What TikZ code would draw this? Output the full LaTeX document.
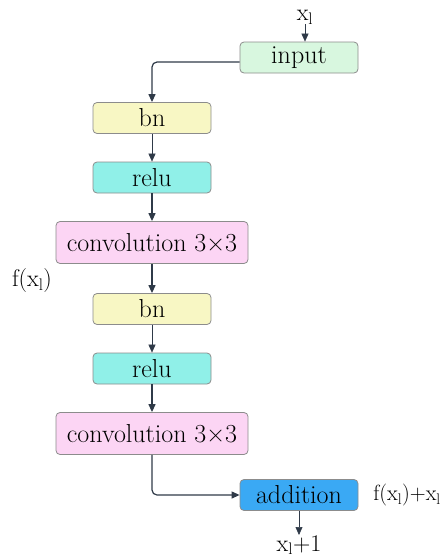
\documentclass[tikz,border=0pt]{standalone}
\usepackage{fontspec}
\usetikzlibrary{arrows.meta}
\definecolor{bordergray}{HTML}{8C8C8C}
\definecolor{arrowdark}{HTML}{2F3A48}
\definecolor{inputfill}{HTML}{D8F7DF}
\definecolor{bnfill}{HTML}{F8F7C4}
\definecolor{relufill}{HTML}{90F0E8}
\definecolor{convfill}{HTML}{FCD5F4}
\definecolor{addfill}{HTML}{3AA9F4}
\tikzset{
  blk/.style={draw=bordergray, line width=0.8pt, rounded corners=4pt, inner sep=0pt, font=\fontsize{26}{26}\selectfont},
  smallblk/.style={blk, minimum width=118pt, minimum height=31pt},
  bigblk/.style={blk, minimum width=192pt, minimum height=42pt},
  conn/.style={draw=arrowdark, line width=1.2pt, -{Triangle[length=8pt,width=7pt]}},
  thin/.style={draw=arrowdark, line width=0.6pt, -{Triangle[length=8pt,width=7pt]}},
  lbl/.style={font=\fontsize{24}{24}\selectfont, inner sep=0pt}
}
\begin{document}
\begin{tikzpicture}[x=1pt,y=-1pt]
\useasboundingbox (0,0) rectangle (441,558);
\node[smallblk, fill=inputfill] (input) at (299,57.5) {input};
\node[smallblk, fill=bnfill] (bn1) at (152,118) {bn};
\node[smallblk, fill=relufill] (relu1) at (152,177.5) {relu};
\node[bigblk, fill=convfill] (conv1) at (152,242.5) {convolution 3×3};
\node[smallblk, fill=bnfill] (bn2) at (152,309) {bn};
\node[smallblk, fill=relufill] (relu2) at (152,368.5) {relu};
\node[bigblk, fill=convfill] (conv2) at (152,433.5) {convolution 3×3};
\node[smallblk, fill=addfill] (add) at (299,495) {addition};
\node[lbl] (xl) at (305,17) {x\textsubscript{l}};
\node[lbl] (fx) at (32,281) {f(x\textsubscript{l})};
\node[lbl, anchor=east, font=\fontsize{22}{22}\selectfont] (fxx) at (441,495) {f(x\textsubscript{l})+x\textsubscript{l}};
\node[lbl] (xl1) at (299,545) {x\textsubscript{l}+1};
\coordinate (inl) at (input.west |- 0,62);
\draw[thin] (xl.south -| 305,0) -- (input.north -| 305,0);
\draw[conn, rounded corners=5pt] (inl) -| (bn1.north);
\draw[thin] (bn1) -- (relu1);
\draw[conn] (relu1) -- (conv1);
\draw[conn] (conv1) -- (bn2);
\draw[thin] (bn2) -- (relu2);
\draw[conn] (relu2) -- (conv2);
\draw[conn, rounded corners=5pt] (conv2.south) |- (add.west);
\draw[thin] (add.south) -- (add.south |- xl1.north);
\end{tikzpicture}
\end{document}
